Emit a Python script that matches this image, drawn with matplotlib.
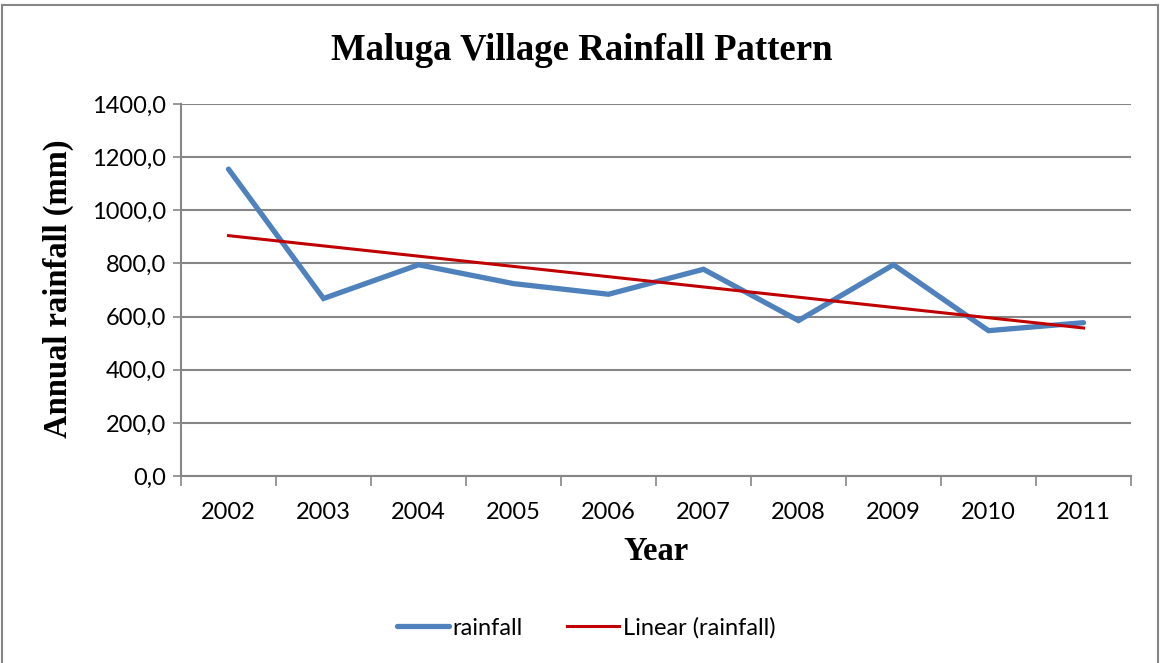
import numpy as np
import matplotlib
matplotlib.use('Agg')
import matplotlib.pyplot as plt
from matplotlib.ticker import FuncFormatter, FixedLocator
from matplotlib.patches import Rectangle

# Data
years = ['2002', '2003', '2004', '2005', '2006', '2007', '2008', '2009', '2010', '2011']
rainfall = [1155, 668, 795, 724, 684, 778, 585, 795, 547, 577]

x = np.arange(len(years))
slope, intercept = np.polyfit(x, rainfall, 1)
trend = slope * x + intercept

fig = plt.figure(figsize=(11.61, 6.63), dpi=100)
ax = fig.add_axes([181/1161, 1 - 476/663, 950/1161, 372/663])

ax.plot(x, rainfall, color='#4F81BD', lw=3.8, label='rainfall', solid_capstyle='round', solid_joinstyle='miter')
ax.plot(x, trend, color='#C00000', lw=2.2, label='Linear (rainfall)')

ax.set_xlim(-0.5, len(years) - 0.5)
ax.set_ylim(0, 1400)
ax.set_yticks(np.arange(0, 1401, 200))
ax.yaxis.set_major_formatter(FuncFormatter(lambda v, p: f'{v:.1f}'.replace('.', ',')))
ax.set_xticks(x)
ax.set_xticklabels(years)
ax.xaxis.set_minor_locator(FixedLocator(np.arange(-0.5, len(years), 1)))
ax.tick_params(axis='x', which='major', length=0, pad=19, labelsize=17)
ax.tick_params(axis='x', which='minor', length=7, color='#868686', width=1.2)
ax.tick_params(axis='y', length=6, color='#868686', width=1.2, labelsize=17, pad=5)
for lbl in ax.get_xticklabels() + ax.get_yticklabels():
    lbl.set_fontfamily('Lato')

ax.grid(axis='y', color='#868686', lw=1.5)
ax.set_axisbelow(True)
for s in ['top', 'right']:
    ax.spines[s].set_visible(False)
for s in ['left', 'bottom']:
    ax.spines[s].set_color('#868686')
    ax.spines[s].set_linewidth(1.5)

fig.text(0.501, 1 - 50/663, 'Maluga Village Rainfall Pattern', ha='center', va='center',
         fontsize=26.5, fontweight='bold', family='Liberation Serif')
fig.text(656/1161, 1 - 552/663, 'Year', ha='center', va='center',
         fontsize=23.5, fontweight='bold', family='Liberation Serif')
fig.text(58/1161, 1 - 289/663, 'Annual rainfall (mm)', rotation=90, ha='center', va='center',
         fontsize=23.5, fontweight='bold', family='Liberation Serif')

fig.legend(loc='center', bbox_to_anchor=(586/1161, 1 - 628/663), ncol=2, frameon=False,
           prop={'family': 'Lato', 'size': 17}, handlelength=2.2, handletextpad=0.15, columnspacing=1.9)

fig.patches.append(Rectangle((2/1161, -5/663), 1156/1161, 663/663, transform=fig.transFigure,
                             fill=False, edgecolor='#868686', lw=1.5))

fig.savefig('out.png', dpi=100)
